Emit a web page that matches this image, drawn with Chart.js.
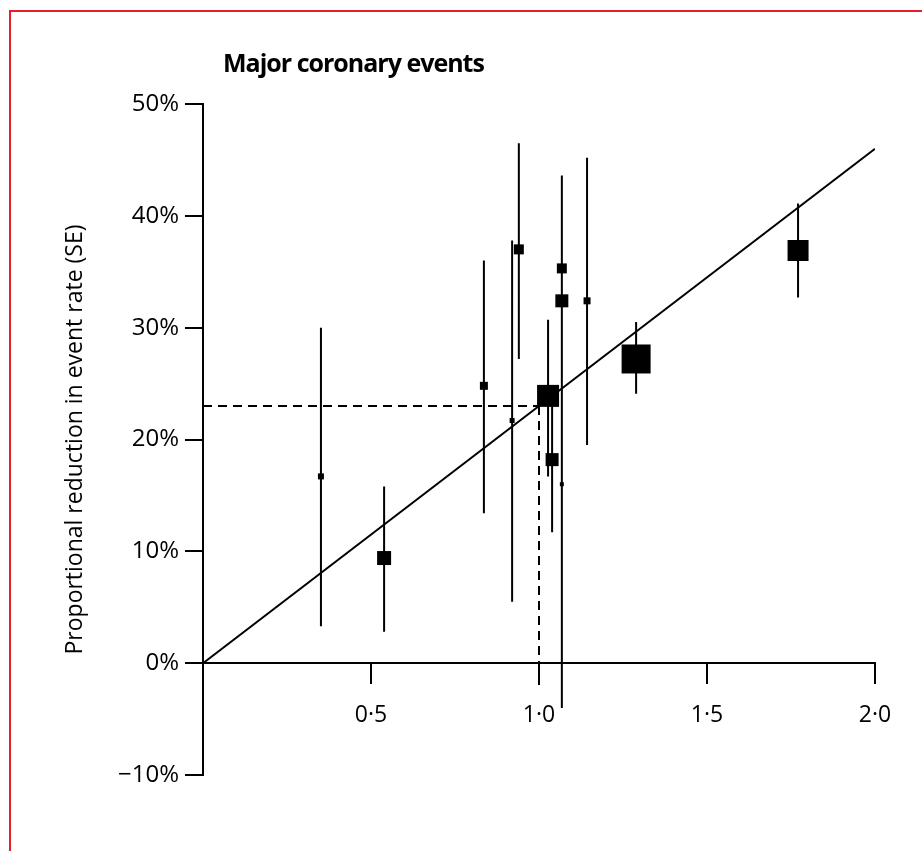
<!DOCTYPE html>
<html><head><meta charset="utf-8">
<script src="https://cdn.jsdelivr.net/npm/chart.js@4/dist/chart.umd.min.js"></script>
<style>
html,body{margin:0;padding:0;background:#fff;}
#wrap{position:relative;width:922px;height:851px;overflow:hidden;}
#frame{position:absolute;left:9px;top:10px;width:930px;height:860px;border-left:2px solid #e3202b;border-top:2px solid #e3202b;}
canvas{position:absolute;left:0;top:0;}
</style></head><body>
<div id="wrap"><div id="frame"></div><canvas id="c" width="922" height="851"></canvas></div>
<script>
// ---- Data ----
const chartTitle = 'Major coronary events';
const yAxisTitle = 'Proportional reduction in event rate (SE)';
const yTickValues = [-10, 0, 10, 20, 30, 40, 50];
const xTickLabels = {0.5: '0·5', 1: '1·0', 1.5: '1·5', 2: '2·0'};

const xValues   = [0.351, 0.539, 0.836, 0.920, 0.940, 1.027, 1.039, 1.068, 1.068, 1.068, 1.143, 1.289, 1.771];
const yValues   = [16.7,  9.4,   24.8,  21.7,  37.0,  23.9,  18.2,  35.3,  32.4,  16.0,  32.4,  27.2,  36.9];
const errLow    = [3.3,   2.8,   13.4,  5.5,   27.2,  16.7,  11.7,  27.0,  25.8,  -4.0,  19.5,  24.1,  32.7];
const errHigh   = [30.0,  15.8,  36.0,  37.8,  46.5,  30.7,  23.0,  43.6,  39.0,  36.0,  45.2,  30.5,  41.1];
const squareSide= [6,     14,    8,     5,     10,    22,    13,    10,    13,    4,     7,     29,    21];

const regressionX = [0, 2.0];
const regressionY = [0, 46];
const refX = 1.0;      // reference ratio
const refY = 23;       // reduction at ratio 1.0
const refYBottom = -2; // dashed guide extends slightly below axis

// ---- Build datasets from the arrays ----
const squares = xValues.map((x, i) => ({x, y: yValues[i]}));
const errorBars = [];
xValues.forEach((x, i) => {
  errorBars.push({x, y: errLow[i]}, {x, y: errHigh[i]}, {x, y: null});
});
const regression = regressionX.map((x, i) => ({x, y: regressionY[i]}));
const guide = [{x: 0, y: refY}, {x: refX, y: refY}, {x: refX, y: null}, {x: refX, y: refY}, {x: refX, y: refYBottom}];

const labelFont = '"Open Sans", "Noto Sans", sans-serif';

const titlePlugin = {
  id: 'panelTitle',
  afterDraw(chart) {
    const ctx = chart.ctx;
    ctx.save();
    ctx.font = 'bold 25px "Open Sans", sans-serif';
    if ('letterSpacing' in ctx) ctx.letterSpacing = '-1px';
    ctx.fillStyle = '#000';
    ctx.textBaseline = 'alphabetic';
    ctx.textAlign = 'left';
    ctx.fillText(chartTitle, chart.chartArea.left + 20, 72);
    ctx.restore();
  }
};

new Chart(document.getElementById('c'), {
  type: 'scatter',
  data: {
    datasets: [
      {
        type: 'scatter', data: squares,
        pointStyle: 'rect',
        pointRadius: squareSide.map(s => s / (2 * Math.SQRT1_2)),
        pointHoverRadius: squareSide.map(s => s / (2 * Math.SQRT1_2)),
        backgroundColor: '#000', borderWidth: 0
      },
      {
        type: 'line', data: errorBars, borderColor: '#000', borderWidth: 2,
        pointRadius: 0, spanGaps: false, fill: false
      },
      {
        type: 'line', data: regression, borderColor: '#000', borderWidth: 2,
        pointRadius: 0, fill: false
      },
      {
        type: 'line', data: guide, borderColor: '#000', borderWidth: 2,
        borderDash: [9, 6], pointRadius: 0, spanGaps: false, fill: false
      }
    ]
  },
  options: {
    responsive: false,
    animation: false,
    layout: {padding: {left: 62, top: 104, right: 47, bottom: 76}},
    plugins: {legend: {display: false}, tooltip: {enabled: false}, title: {display: false}},
    scales: {
      x: {
        type: 'linear', position: {y: 0}, min: 0, max: 2,
        ticks: {stepSize: 0.5, color: '#000', padding: 18, maxRotation: 0,
          font: {family: labelFont, size: 23},
          callback: v => xTickLabels[v] || ''},
        grid: {drawOnChartArea: false, drawTicks: true, tickLength: 20, color: '#000', lineWidth: 2},
        border: {display: true, color: '#000', width: 2}
      },
      y: {
        type: 'linear', position: 'left', min: -10, max: 50,
        afterFit: s => { s.width = 141; },
        afterBuildTicks: s => { s.ticks = yTickValues.map(v => ({value: v})); },
        ticks: {color: '#000', padding: 6,
          font: {family: labelFont, size: 24},
          callback: v => (v < 0 ? '\u2212' + Math.abs(v) : v) + '%'},
        grid: {drawOnChartArea: false, drawTicks: true, tickLength: 18, color: '#000', lineWidth: 2},
        border: {display: true, color: '#000', width: 2},
        title: {display: true, text: yAxisTitle, color: '#000', padding: 0,
          font: {family: labelFont, size: 23}}
      }
    }
  },
  plugins: [titlePlugin]
});
</script>
</body></html>
